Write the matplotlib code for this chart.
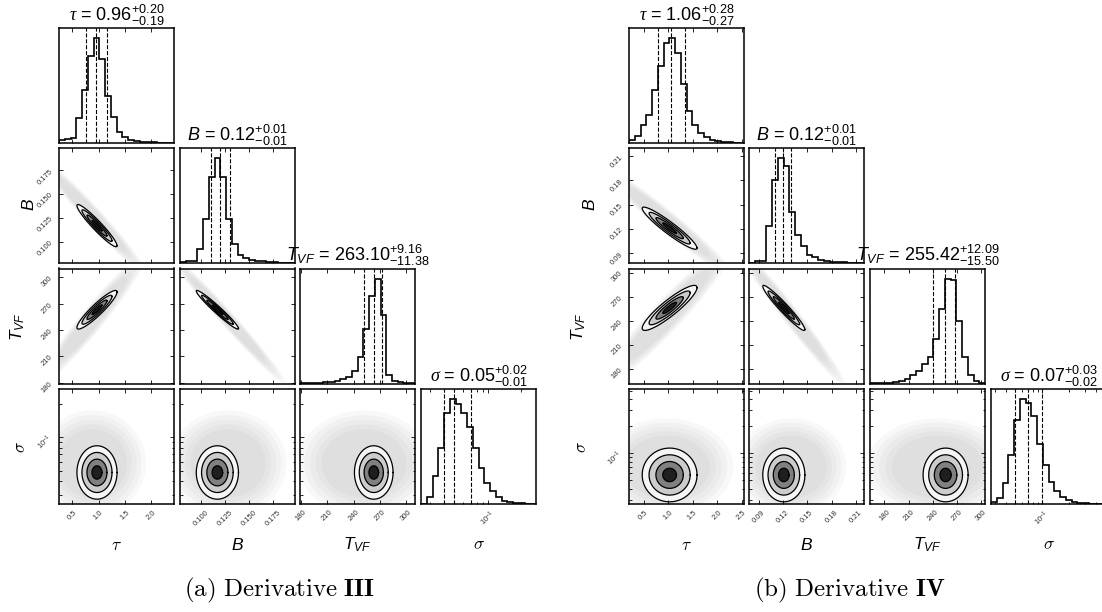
import numpy as np
import matplotlib.pyplot as plt
from matplotlib.ticker import FixedLocator, FormatStrFormatter, NullFormatter, LogLocator

plt.rcParams['font.family'] = ['Liberation Sans', 'DejaVu Sans']
plt.rcParams['mathtext.fontset'] = 'custom'
plt.rcParams['mathtext.rm'] = 'Liberation Sans'
plt.rcParams['mathtext.it'] = 'Liberation Sans:italic'
plt.rcParams['mathtext.cal'] = 'Liberation Serif:italic'

# ---- values ----
# 1D marginals, 20 bins each, normalised to the peak bin
tau_hist_III = [0.03, 0.04, 0.05, 0.24, 0.51, 0.83, 1.0, 0.80, 0.45, 0.25,
                0.11, 0.06, 0.03, 0.02, 0.01, 0.01, 0.005, 0.003, 0.002, 0.001]
B_hist_III = [0.005, 0.015, 0.02, 0.13, 0.42, 0.82, 1.0, 0.82, 0.42, 0.18,
              0.08, 0.05, 0.03, 0.02, 0.015, 0.01, 0.006, 0.004, 0.002, 0.001]
T_hist_III = [0.002, 0.003, 0.005, 0.007, 0.01, 0.015, 0.025, 0.04, 0.065, 0.12,
              0.25, 0.52, 0.84, 1.0, 0.66, 0.08, 0.025, 0.01, 0.005, 0.002]
sig_hist_III = [0.0, 0.07, 0.27, 0.54, 0.87, 1.0, 0.96, 0.87, 0.74, 0.54,
                0.34, 0.2, 0.12, 0.07, 0.03, 0.015, 0.008, 0.005, 0.003, 0.002]

tau_hist_IV = [0.03, 0.065, 0.17, 0.27, 0.51, 0.74, 0.96, 1.0, 0.86, 0.56,
               0.31, 0.17, 0.10, 0.06, 0.03, 0.015, 0.01, 0.007, 0.004, 0.003]
B_hist_IV = [0.0, 0.015, 0.02, 0.35, 0.79, 1.0, 0.93, 0.49, 0.27, 0.16,
             0.08, 0.055, 0.03, 0.015, 0.01, 0.008, 0.005, 0.003, 0.002, 0.001]
T_hist_IV = [0.003, 0.004, 0.006, 0.008, 0.012, 0.02, 0.04, 0.085, 0.12, 0.19,
             0.25, 0.43, 0.71, 1.0, 0.99, 0.6, 0.25, 0.077, 0.02, 0.005]
sig_hist_IV = [0.02, 0.055, 0.2, 0.47, 0.8, 1.0, 0.97, 0.84, 0.57, 0.375,
               0.215, 0.12, 0.07, 0.04, 0.015, 0.008, 0.005, 0.003, 0.002, 0.001]

# medians and +/- errors (tau, B, T_VF, sigma)
med_III = [0.96, 0.12, 263.10, 0.05]
up_III = [0.20, 0.01, 9.16, 0.02]
lo_III = [0.19, 0.01, 11.38, 0.01]
med_IV = [1.06, 0.12, 255.42, 0.07]
up_IV = [0.28, 0.01, 12.09, 0.03]
lo_IV = [0.27, 0.01, 15.50, 0.02]

# 2D contours: centre, spread (sigma spread in dex) and correlations
core_c_III = [0.97, 0.117, 263.0, 0.048]
core_w_III = [0.19, 0.011, 11.0, 0.12]
corr_III = {(0, 1): -0.95, (0, 2): 0.92, (1, 2): -0.97, (0, 3): 0.0, (1, 3): 0.0, (2, 3): 0.0}
# faint scatter of samples around the contours
cloud_c_III = [0.88, 0.128, 252.0, 0.058]
cloud_w_III = [0.30, 0.018, 22.0, 0.14]
cloud_corr_III = {(0, 1): -0.975, (0, 2): 0.96, (1, 2): -0.985, (0, 3): 0.0, (1, 3): 0.0, (2, 3): 0.0}

core_c_IV = [1.03, 0.121, 256.0, 0.057]
core_w_IV = [0.28, 0.013, 14.0, 0.15]
corr_IV = {(0, 1): -0.94, (0, 2): 0.9, (1, 2): -0.96, (0, 3): 0.0, (1, 3): 0.0, (2, 3): 0.0}
cloud_c_IV = [0.97, 0.13, 246.0, 0.07]
cloud_w_IV = [0.40, 0.02, 26.0, 0.16]
cloud_corr_IV = {(0, 1): -0.97, (0, 2): 0.95, (1, 2): -0.98, (0, 3): 0.0, (1, 3): 0.0, (2, 3): 0.0}

lims_III = [(0.25, 2.43), (0.078, 0.198), (179, 310), (0.025, 0.27)]
lims_IV = [(0.2, 2.55), (0.078, 0.22), (162, 305), (0.027, 0.52)]
ticks_III = [[0.5, 1.0, 1.5, 2.0], [0.100, 0.125, 0.150, 0.175], [180, 210, 240, 270, 300], None]
ticks_IV = [[0.5, 1.0, 1.5, 2.0, 2.5], [0.09, 0.12, 0.15, 0.18, 0.21], [180, 210, 240, 270, 300], None]
fmts_III = ['%.1f', '%.3f', '%d', None]
fmts_IV = ['%.1f', '%.2f', '%d', None]

title_names = [r'$\mathcal{\tau}$', r'$B$', r'$T_{VF}$', r'$\mathcal{\sigma}$']
axis_names = [r'$\tau$', r'$B$', r'$T_{VF}$', r'$\sigma$']

W, H = 1102, 612
fig = plt.figure(figsize=(W / 100, H / 100), dpi=100)

row_tops = [28, 148, 268.5, 389]
size = 115


def ellipse(cx, cy, sx, sy, rho, k):
    t = np.linspace(0, 2 * np.pi, 120)
    x = cx + k * sx * np.cos(t)
    y = cy + k * sy * (rho * np.cos(t) + np.sqrt(1 - rho ** 2) * np.sin(t))
    return x, y


def centre(vals, d):
    return np.log10(vals[d]) if d == 3 else vals[d]


def draw_corner(cols, hists, med, up, lo, cc, cw, corr, clc, clw, clcorr, lims, ticks, fmts,
                ylab_x, caption, cap_x):
    for i in range(4):
        for j in range(i + 1):
            ax = fig.add_axes([cols[j] / W, 1 - (row_tops[i] + size) / H, size / W, size / H])
            for s in ax.spines.values():
                s.set_linewidth(1.1)
            if j == 3:
                ax.set_xscale('log')
            if i == j:
                lo_l, hi_l = lims[i]
                if i == 3:
                    edges = np.logspace(np.log10(lo_l), np.log10(hi_l), 21)
                else:
                    edges = np.linspace(lo_l, hi_l, 21)
                ax.stairs(hists[i], edges, color='k', lw=1.2)
                for v in (med[i] - lo[i], med[i], med[i] + up[i]):
                    ax.axvline(v, color='k', ls='--', lw=0.8)
                ax.set_ylim(0, 1.1 * max(hists[i]))
                ax.set_yticks([])
                ax.set_title(r'%s = %.2f$^{+%.2f}_{-%.2f}$' % (title_names[i], med[i], up[i], lo[i]),
                             fontsize=13, pad=0)
            else:
                if i == 3:
                    ax.set_yscale('log')
                # faint cloud of samples
                for k in (3.4, 3.1, 2.8, 2.5, 2.2):
                    x, y = ellipse(centre(clc, j), centre(clc, i), clw[j], clw[i], clcorr[(j, i)], k)
                    if i == 3:
                        y = 10 ** y
                    ax.fill(x, y, color='0.3', alpha=0.035, lw=0)
                for k, shade in ((2.0, '0.96'), (1.5, '0.8'), (1.0, '0.5'), (0.5, '0.12')):
                    x, y = ellipse(centre(cc, j), centre(cc, i), cw[j], cw[i], corr[(j, i)], k)
                    if i == 3:
                        y = 10 ** y
                    ax.fill(x, y, color=shade, lw=0)
                    ax.plot(x, y, color='k', lw=0.9)
                ax.set_ylim(*lims[i])
            ax.set_xlim(*lims[j])

            ax.tick_params(which='both', direction='in', top=True, right=(i != j),
                           labelsize=5.5, labelcolor='0.2', width=0.6)
            ax.tick_params(which='major', length=3)
            ax.tick_params(which='minor', length=1.8)
            # x ticks
            if ticks[j] is not None:
                ax.xaxis.set_major_locator(FixedLocator(ticks[j]))
            else:
                ax.xaxis.set_major_locator(LogLocator(base=10))
                ax.xaxis.set_minor_locator(LogLocator(base=10, subs=np.arange(2, 10)))
                ax.xaxis.set_minor_formatter(NullFormatter())
            if i == 3:
                if fmts[j] is not None:
                    ax.xaxis.set_major_formatter(FormatStrFormatter(fmts[j]))
                for t in ax.get_xticklabels():
                    t.set_rotation(45)
            else:
                ax.xaxis.set_major_formatter(NullFormatter())
            # y ticks
            if i != j:
                if ticks[i] is not None:
                    ax.yaxis.set_major_locator(FixedLocator(ticks[i]))
                else:
                    ax.yaxis.set_major_locator(LogLocator(base=10))
                    ax.yaxis.set_minor_locator(LogLocator(base=10, subs=np.arange(2, 10)))
                    ax.yaxis.set_minor_formatter(NullFormatter())
                if j == 0:
                    if fmts[i] is not None:
                        ax.yaxis.set_major_formatter(FormatStrFormatter(fmts[i]))
                    for t in ax.get_yticklabels():
                        t.set_rotation(45)
                else:
                    ax.yaxis.set_major_formatter(NullFormatter())

    for d in range(4):
        mf = 'cm' if d in (0, 3) else None
        fig.text((cols[d] + size / 2) / W, 1 - 545 / H, axis_names[d], fontsize=12.5,
                 ha='center', va='center', math_fontfamily=mf)
    for d, (dx, yc) in zip((1, 2, 3), ((0, 205), (-11, 327), (-8, 447))):
        mf = 'cm' if d == 3 else None
        fig.text((ylab_x + dx) / W, 1 - yc / H, axis_names[d], fontsize=12.5, rotation=90,
                 ha='center', va='center', math_fontfamily=mf)
    fig.text(cap_x / W, 1 - 590 / H, caption, fontsize=18, ha='center', va='center',
             math_fontfamily='cm')


draw_corner([59, 180, 300, 421],
            [tau_hist_III, B_hist_III, T_hist_III, sig_hist_III],
            med_III, up_III, lo_III, core_c_III, core_w_III, corr_III,
            cloud_c_III, cloud_w_III, cloud_corr_III, lims_III, ticks_III, fmts_III, 29,
            r'$\mathrm{(a)\ Derivative}\ \mathbf{III}$', 280)
draw_corner([629, 749, 870, 991],
            [tau_hist_IV, B_hist_IV, T_hist_IV, sig_hist_IV],
            med_IV, up_IV, lo_IV, core_c_IV, core_w_IV, corr_IV,
            cloud_c_IV, cloud_w_IV, cloud_corr_IV, lims_IV, ticks_IV, fmts_IV, 590,
            r'$\mathrm{(b)\ Derivative}\ \mathbf{IV}$', 850)

fig.savefig('out.png', dpi=100)
